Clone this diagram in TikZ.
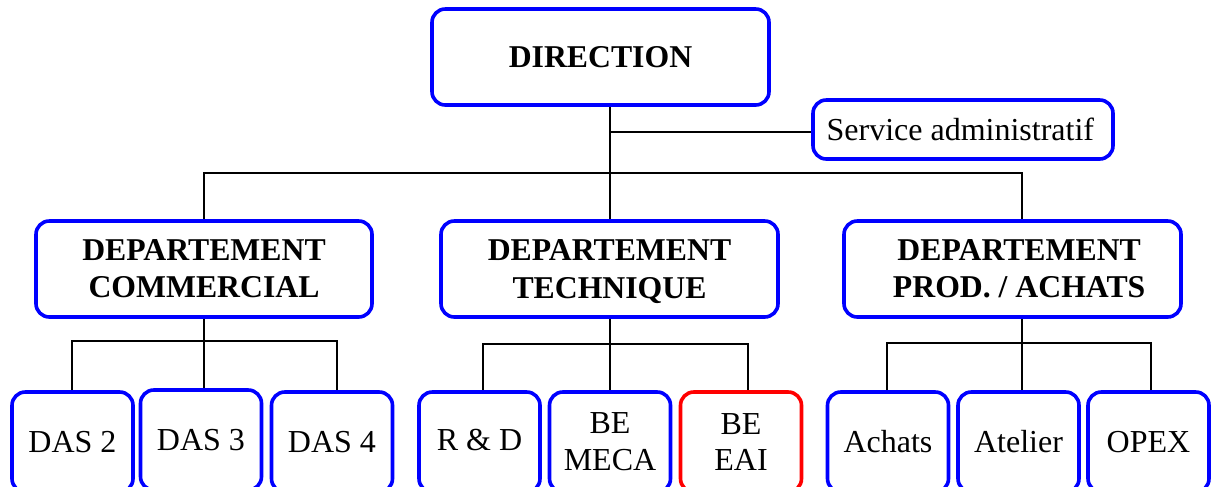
\documentclass[tikz,border=0pt]{standalone}
\usepackage{fontspec}
\setmainfont{Liberation Serif}
\begin{document}
\begin{tikzpicture}[x=0.75pt,y=-0.75pt,
  box/.style={draw=blue,line width=2.7pt,rounded corners=10pt,inner sep=0pt,align=center,
              font=\fontsize{24}{27.5}\selectfont},
  top/.style={box,font=\fontsize{23.8}{27.8}\selectfont\bfseries},
  sub/.style={box,minimum width=90.75pt,minimum height=75pt},
  link/.style={line width=1.5pt,black}]
\useasboundingbox (0,0) rectangle (1213,486);
\clip (0,0) rectangle (1213,486);
% top
\node[top,minimum width=252.75pt,minimum height=72pt] (dir) at (600.5,57) {DIRECTION};
\node[box,minimum width=225pt,minimum height=44.25pt] (serv) at (963,129.5) {Service administratif\hspace*{4pt}};
% departments
\node[top,minimum width=252pt,minimum height=72pt] (com) at (204,269) {DEPARTEMENT\\COMMERCIAL};
\node[top,minimum width=252.75pt,minimum height=72pt] (tech) at (609.5,269) {DEPARTEMENT\\\raisebox{0pt}[\height][0pt]{TECHNIQUE}};
\node[top,minimum width=252.75pt,minimum height=72pt] (prod) at (1012.5,269) {\hspace*{10pt}DEPARTEMENT\\\hspace*{10pt}PROD. / ACHATS};
% bottom row
\node[sub] (das2) at (72.5,442) {DAS 2};
\node[sub] (das3) at (201,440) {DAS 3};
\node[sub] (das4) at (332,442) {DAS 4};
\node[sub] (rd) at (479.5,442) {\raisebox{3pt}{R \& D}};
\node[sub] (meca) at (610,442) {BE\\MECA};
\node[sub,draw=red] (eai) at (741,442) {BE\\EAI};
\node[sub] (achats) at (888,442) {Achats};
\node[sub] (atelier) at (1018.5,442) {Atelier};
\node[sub] (opex) at (1148.5,442) {OPEX};
% bus coordinates
\coordinate (bus) at (610,173);
\coordinate (pb) at (1022,343);
\coordinate (cl) at (72,341);
\coordinate (cr) at (337,341);
\coordinate (tl) at (483,344);
\coordinate (tr) at (748,344);
\coordinate (pl) at (887,343);
\coordinate (pr) at (1151,343);
% connectors
\draw[link] (dir.south -| bus) -- (tech.north -| bus);
\draw[link] (serv.west -| bus) ++(0,2.5) coordinate (sv) -- (sv -| serv.west);
\draw[link] (com.north) |- (bus) -| (prod.north -| pb);
\draw[link] (com.south) -- (com.south |- das3.north);
\draw[link] (cl |- das2.north) -- (cl) -- (cr) -- (cr |- das4.north);
\draw[link] (tech.south -| bus) -- (meca.north -| bus);
\draw[link] (tl |- rd.north) -- (tl) -- (tr) -- (tr |- eai.north);
\draw[link] (prod.south -| pb) -- (atelier.north -| pb);
\draw[link] (pl |- achats.north) -- (pl) -- (pr) -- (pr |- opex.north);
\end{tikzpicture}
\end{document}
